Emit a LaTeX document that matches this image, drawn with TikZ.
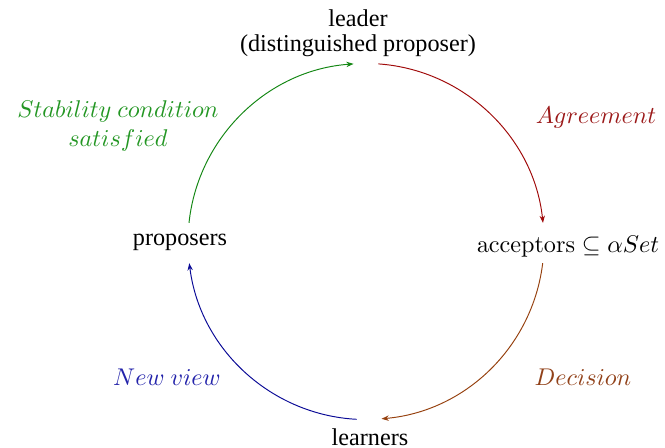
\documentclass[tikz,border=0pt]{standalone}
\usepackage[no-math]{fontspec}
\setmainfont{Liberation Serif}
\usetikzlibrary{arrows.meta}
\definecolor{grline}{RGB}{20,135,20}
\definecolor{grlab}{RGB}{35,150,35}
\definecolor{rdline}{RGB}{160,10,10}
\definecolor{rdlab}{RGB}{155,25,25}
\definecolor{brline}{RGB}{150,65,15}
\definecolor{brlab}{RGB}{145,65,25}
\definecolor{blline}{RGB}{10,10,150}
\definecolor{bllab}{RGB}{35,35,170}
\tikzset{
  txt/.style={inner sep=0pt, font=\fontsize{10}{11}\selectfont},
  lab/.style={inner sep=0pt},
  conn/.style={line width=0.4pt, -{Stealth[length=3pt,width=2.2pt]}, looseness=0.96}
}
\begin{document}
\begin{tikzpicture}[x=0.4132pt,y=0.4132pt]
\useasboundingbox (0,0) rectangle (665,-448);
% nodes
\node[txt, align=center, anchor=south] (leader) at (358,-57.5) {leader\\[-0.6pt](distinguished proposer)};
\node[txt, anchor=base] (proposers) at (180,-245.5) {proposers};
\node[txt, anchor=base] (acceptors) at (568,-252.5) {$\mathrm{acceptors}\subseteq\alpha Set$};
\node[txt, anchor=base] (learners) at (370,-445) {learners};
% labels
\node[lab, align=center, text=grlab] (stab) at (118,-126) {$Stability\ condition$\\$satisfied$};
\node[lab, anchor=base, text=rdlab] (agree) at (596,-123) {$Agreement$};
\node[lab, anchor=base, text=brlab] (decide) at (583,-385) {$Decision$};
\node[lab, anchor=base, text=bllab] (newview) at (167,-385) {$New\ view$};
% connector end points on the circle (centre (366,-241.5), r=178)
\coordinate (g1) at (189.0,-222.9);
\coordinate (g2) at (353.6,-63.9);
\coordinate (r1) at (378.4,-63.9);
\coordinate (r2) at (543.0,-222.9);
\coordinate (b1) at (542.7,-263.2);
\coordinate (b2) at (381.5,-418.8);
\coordinate (u1) at (356.7,-419.3);
\coordinate (u2) at (189.3,-263.2);
% connectors
\draw[conn, grline] (g1) to[out=84, in=184] (g2);
\draw[conn, rdline] (r1) to[out=-4, in=96] (r2);
\draw[conn, brline] (b1) to[out=-97, in=5] (b2);
\draw[conn, blline] (u1) to[out=177, in=-83] (u2);
\end{tikzpicture}
\end{document}
